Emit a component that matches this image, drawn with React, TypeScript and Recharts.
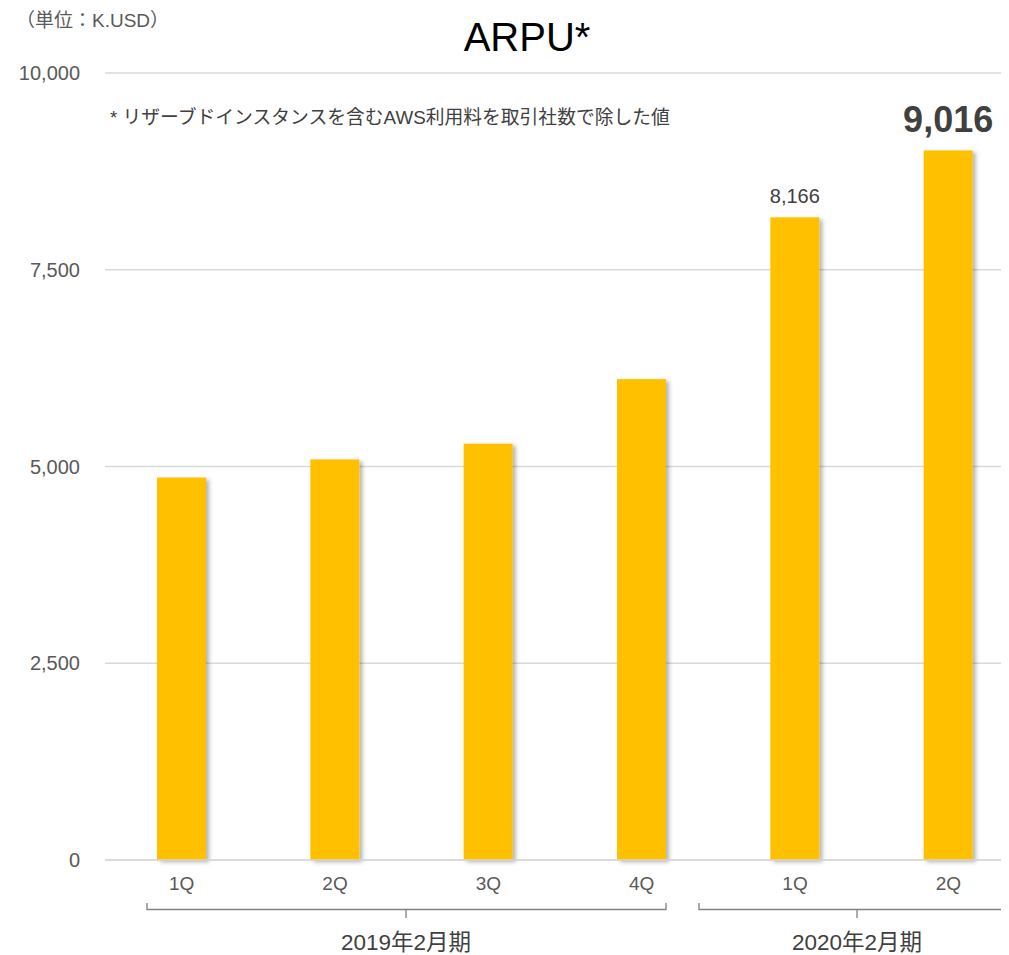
import React from 'react'
import { BarChart, Bar, XAxis, YAxis, CartesianGrid, LabelList } from 'recharts'

// quarters and ARPU values (K.USD)
const quarters = ['1Q', '2Q', '3Q', '4Q', '1Q', '2Q']
const arpu = [4860, 5090, 5290, 6110, 8166, 9016]
const valueLabels = ['', '', '', '', '8,166', '9,016']
const yTicks = [0, 2500, 5000, 7500, 10000]

const groups = [
  { name: '2019年2月期', from: 147, to: 666, mid: 406 },
  { name: '2020年2月期', from: 699, to: 1030, mid: 857 },
]

const data = quarters.map((q, i) => ({ q, arpu: arpu[i], label: valueLabels[i] }))

const FONT = '"Liberation Sans", Arial, "Noto Sans CJK JP", sans-serif'
const BAR = '#FFC000'

const fmt = (v: number) => v.toLocaleString('en-US')

const ShadowBar = (props: any) => {
  const { x, y, width, height } = props
  if (!height) return null
  return <rect x={x} y={y} width={width} height={height} fill={BAR} filter="url(#barShadow)" />
}

const ValueLabel = (props: any) => {
  const { x, y, width, value, index } = props
  if (!value) return null
  const big = index === 5
  return (
    <text
      x={x + width / 2}
      y={y - (big ? 18 : 14)}
      textAnchor="middle"
      fill="#404040"
      fontFamily={FONT}
      fontSize={big ? 36 : 20}
      fontWeight={big ? 'bold' : 'normal'}
    >
      {value}
    </text>
  )
}

export default function App() {
  return (
    <div style={{ position: 'relative', width: 1001, height: 947, overflow: 'hidden', fontFamily: FONT }}>
      <style>{'html, body { overflow: hidden; }'}</style>
      <BarChart width={1017} height={947} data={data} margin={{ top: 65, right: 0, bottom: 65, left: 37 }}>
        <defs>
          <filter id="barShadow" x="-20%" y="-5%" width="150%" height="115%">
            <feDropShadow dx={3} dy={2} stdDeviation={2} floodColor="#000" floodOpacity={0.3} />
          </filter>
        </defs>
        <CartesianGrid vertical={false} stroke="#d9d9d9" strokeWidth={1.3} />
        <XAxis
          dataKey="q"
          height={30}
          axisLine={{ stroke: '#d9d9d9', strokeWidth: 1.3 }}
          tickLine={false}
          tickSize={0}
          tickMargin={17}
          tick={{ fontSize: 19, fill: '#595959', fontFamily: FONT }}
          interval={0}
        />
        <YAxis
          width={60}
          domain={[0, 10000]}
          ticks={yTicks}
          tickFormatter={fmt}
          axisLine={false}
          tickLine={false}
          tickSize={0}
          tickMargin={25}
          tick={{ fontSize: 20, fill: '#595959', fontFamily: FONT }}
        />
        <Bar dataKey="arpu" barSize={49} shape={ShadowBar} isAnimationActive={false}>
          <LabelList dataKey="label" content={ValueLabel} />
        </Bar>
      </BarChart>

      <svg width={1001} height={947} style={{ position: 'absolute', left: 0, top: 0, pointerEvents: 'none' }}>
        <g transform="translate(-8,-8)" fontFamily={FONT}>
          <text x={16} y={27} fontSize={19} fill="#595959">（単位：K.USD）</text>
          <text x={527} y={51} fontSize={40} textAnchor="middle" fill="#000">ARPU*</text>
          <text x={110} y={124} fontSize={18.8} fill="#404040">* リザーブドインスタンスを含むAWS利用料を取引社数で除した値</text>
          {groups.map((g) => (
            <g key={g.name} stroke="#808080" strokeWidth={1.3} fill="none">
              <path d={`M${g.from},903 L${g.from},909.5 L${g.to},909.5 L${g.to},903`} />
              <path d={`M${g.mid},909.5 L${g.mid},918`} />
              <text x={g.mid} y={950} textAnchor="middle" fontSize={22.5} fill="#404040" stroke="none">
                {g.name}
              </text>
            </g>
          ))}
        </g>
      </svg>
    </div>
  )
}
